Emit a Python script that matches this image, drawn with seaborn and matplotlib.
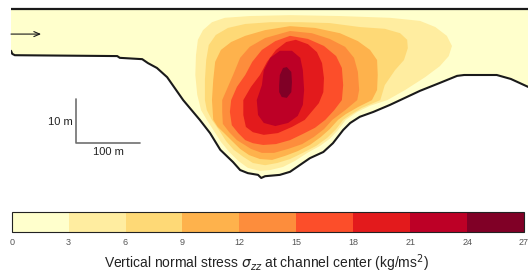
import matplotlib
matplotlib.use("Agg")
import matplotlib.pyplot as plt
from matplotlib.patches import Polygon
from matplotlib.colors import ListedColormap, BoundaryNorm
from matplotlib.cm import ScalarMappable
import seaborn as sns

# Channel cross-section: distance across channel (m) and bed elevation (m)
bed_x = [0, 2, 6, 166, 170, 205, 214, 228, 244, 269, 295, 311, 327, 347, 358, 370, 386,
         391, 397, 420, 436, 447, 467, 488, 503, 519, 530, 545, 566, 592, 639, 670, 697,
         708, 759, 781, 808, 826]
bed_z = [-9.5, -10.2, -10.5, -10.7, -11.1, -11.4, -12.3, -13.4, -15.5, -20.7, -25.2, -28.2,
         -32.0, -34.8, -36.6, -37.3, -37.7, -38.4, -38.0, -37.7, -37.0, -35.9, -33.9, -32.5,
         -30.5, -27.5, -25.9, -24.5, -23.4, -21.8, -18.6, -16.8, -15.2, -15.0, -15.0, -15.9,
         -17.7, -19.0]

# Colour levels of sigma_zz (kg/ms^2)
stress_levels = [0, 3, 6, 9, 12, 15, 18, 21, 24, 27]

# Iso-lines of sigma_zz (lower bound of each band), x in m, z in m
iso3_x = [297, 291, 288, 289, 292, 300, 314, 334, 373, 436, 514, 592, 639, 663, 681, 689,
          684, 670, 647, 616, 588, 561, 541, 523, 511, 498, 483, 463, 444, 425, 405, 389,
          370, 355, 341, 328, 317, 306]
iso3_z = [-23.0, -19.5, -15.0, -10.5, -7.0, -4.8, -3.0, -2.0, -1.6, -1.4, -1.6, -2.0, -2.7,
          -4.1, -6.1, -8.4, -10.7, -13.0, -15.5, -18.4, -20.7, -22.0, -23.4, -25.2, -27.5,
          -29.5, -31.1, -32.7, -34.5, -35.9, -36.6, -36.8, -36.1, -34.5, -32.5, -30.2,
          -27.7, -25.2]

iso6_x = [306, 303, 303, 305, 309, 320, 339, 366, 405, 452, 498, 545, 584, 608, 619, 620,
          614, 600, 584, 577, 548, 530, 519, 508, 494, 477, 456, 436, 416, 397, 378, 363,
          348, 336, 325, 314]
iso6_z = [-23.0, -20.7, -16.1, -11.6, -8.2, -5.9, -4.3, -3.4, -3.0, -3.0, -3.2, -4.1, -4.5,
          -5.5, -7.0, -8.9, -11.6, -13.9, -17.3, -20.7, -22.5, -24.1, -25.2, -27.3, -29.3,
          -31.1, -32.7, -34.1, -35.0, -35.5, -35.0, -33.6, -32.0, -30.0, -27.5, -25.2]

iso9_x = [314, 316, 319, 328, 344, 366, 397, 436, 475, 514, 542, 561, 572, 573, 572, 564,
          542, 523, 511, 498, 484, 467, 448, 428, 408, 389, 372, 358, 344, 333, 323, 316]
iso9_z = [-20.7, -16.1, -12.0, -9.3, -7.5, -6.1, -4.8, -3.9, -4.3, -5.5, -7.3, -9.3, -11.6,
          -15.0, -18.4, -20.7, -22.3, -23.9, -25.2, -27.3, -29.1, -30.9, -32.3, -33.4,
          -34.3, -34.1, -33.2, -31.8, -29.8, -28.2, -26.8, -25.2]

iso12_x = [330, 338, 347, 358, 373, 397, 436, 470, 498, 522, 536, 542, 544, 541, 522, 502,
           489, 473, 455, 433, 411, 392, 375, 363, 353, 341, 331, 330]
iso12_z = [-20.7, -18.0, -15.0, -11.1, -8.6, -6.6, -5.0, -5.5, -6.8, -8.6, -11.1, -14.3,
           -18.4, -20.7, -23.0, -25.2, -27.3, -29.1, -30.7, -31.8, -32.7, -32.7, -31.8,
           -30.7, -29.8, -28.0, -26.1, -23.4]

iso15_x = [344, 353, 366, 377, 392, 413, 436, 464, 489, 508, 517, 519, 517, 505, 491, 475,
           456, 436, 414, 394, 378, 366, 355, 345, 342]
iso15_z = [-20.7, -17.7, -15.0, -12.0, -9.3, -7.3, -6.1, -6.8, -8.4, -10.7, -13.4, -17.3,
           -20.7, -23.0, -25.2, -27.0, -28.4, -29.8, -30.7, -30.9, -30.5, -29.8, -28.2,
           -26.4, -23.4]

iso18_x = [363, 375, 389, 400, 414, 430, 445, 464, 478, 486, 489, 488, 481, 459, 439, 417,
           395, 378, 367, 363]
iso18_z = [-20.7, -17.7, -15.0, -12.0, -9.3, -7.5, -7.0, -8.0, -9.8, -12.3, -15.7, -18.9,
           -21.4, -25.2, -26.8, -28.2, -28.6, -28.0, -26.8, -24.1]

iso21_x = [384, 392, 395, 405, 420, 439, 452, 456, 458, 456, 448, 433, 413, 395, 386]
iso21_z = [-20.7, -17.3, -13.9, -11.1, -9.5, -9.5, -11.1, -13.9, -18.4, -21.8, -24.3,
           -25.9, -26.6, -25.9, -24.1]

iso24_x = [419, 420, 425, 431, 438, 439, 438, 431, 423, 419]
iso24_z = [-17.3, -15.0, -13.4, -13.2, -14.3, -16.6, -18.9, -20.2, -20.0, -18.9]

iso_lines = [(iso3_x, iso3_z), (iso6_x, iso6_z), (iso9_x, iso9_z), (iso12_x, iso12_z),
             (iso15_x, iso15_z), (iso18_x, iso18_z), (iso21_x, iso21_z), (iso24_x, iso24_z)]

sns.set_theme(style="white")
plt.rcParams['font.family'] = ['Liberation Sans', 'DejaVu Sans']
plt.rcParams['mathtext.fontset'] = 'dejavusans'

colors = sns.color_palette(["#ffffcc", "#ffeda0", "#fed976", "#feb24c", "#fd8d3c",
                            "#fc4e2a", "#e31a1c", "#bd0026", "#800026"])

W, H = 528, 275
fig = plt.figure(figsize=(W / 100, H / 100), dpi=100)
ax = fig.add_axes([11 / W, 90 / H, 517 / W, 180.4 / H])
ax.set_xlim(0, 807.8)
ax.set_ylim(-40, 1)
ax.axis('off')

# water body = surface + bed, used as background and clip path
verts = list(zip(bed_x, bed_z)) + [(bed_x[-1], 0), (bed_x[0], 0)]
channel = Polygon(verts, closed=True, facecolor=colors[0], edgecolor='none',
                  transform=ax.transData)
ax.add_patch(channel)

for (xs, zs), c in zip(iso_lines, colors[1:]):
    for p in ax.fill(xs, zs, color=c, lw=0):
        p.set_clip_path(channel)

ax.plot(bed_x, bed_z, color='k', lw=1.5, solid_joinstyle='round')
ax.plot([bed_x[0], bed_x[-1]], [0, 0], color='k', lw=1.6)

# flow direction arrow
ax.annotate('', xy=(47, -5.7), xytext=(0, -5.7),
            arrowprops=dict(arrowstyle='->,head_length=0.35,head_width=0.15',
                            color='k', lw=0.8, shrinkA=0, shrinkB=0))

# scale bar
ax.plot([101.6, 101.6, 201.6], [-20.5, -30.5, -30.5], color='#6f6f6f', lw=1.2)
ax.text(96, -25.7, '10 m', ha='right', va='center', fontsize=8, color='#222222')
ax.text(152, -32.6, '100 m', ha='center', va='center', fontsize=8, color='#222222')

# colour bar
cax = fig.add_axes([11.7 / W, 42.7 / H, 512.3 / W, 20 / H])
sm = ScalarMappable(norm=BoundaryNorm(stress_levels, len(colors)), cmap=ListedColormap(colors))
cbar = fig.colorbar(sm, cax=cax, orientation='horizontal', ticks=stress_levels)
cbar.outline.set_linewidth(0.8)
cbar.outline.set_edgecolor('#222222')
cax.tick_params(direction='in', length=4, width=0.6, color='#333333',
                labelsize=6.5, labelcolor='#555555', pad=4)
fig.text(266 / W, 6.5 / H,
         r'Vertical normal stress $\sigma_{zz}$ at channel center (kg/ms$^2$)',
         ha='center', va='baseline', fontsize=10, color='#222222')

fig.savefig('out.png', dpi=100)
